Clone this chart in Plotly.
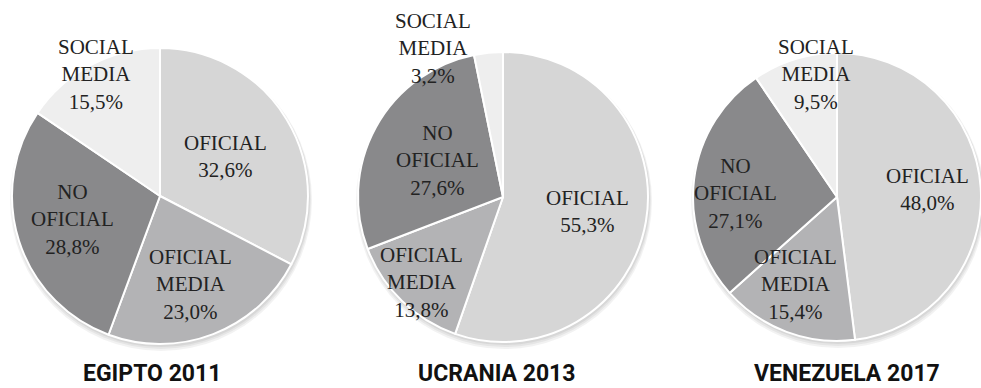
import plotly.graph_objects as go

W, H = 981, 388

# Data: share of each media type in three protest episodes
countries = ["EGIPTO 2011", "UCRANIA 2013", "VENEZUELA 2017"]
categories = ["OFICIAL", "OFICIAL<br>MEDIA", "NO<br>OFICIAL", "SOCIAL<br>MEDIA"]
egipto = [32.6, 23.0, 28.8, 15.5]
ucrania = [55.3, 13.8, 27.6, 3.2]
venezuela = [48.0, 15.4, 27.1, 9.5]
series = [egipto, ucrania, venezuela]

# Styling / layout
colors = ["#d6d6d6", "#b3b3b5", "#89898b", "#eeeeee"]
label_font = "'Liberation Serif', 'DejaVu Serif', serif"
title_font = "'Liberation Sans Narrow', Roboto"
# pie centre (px) and radius (px)
pie_geom = [(160, 196, 148), (503, 197, 145), (837, 197, 144)]
# label centres (px), one per category, per pie
label_pos = [
    [(225, 156), (190, 284), (72, 219), (96, 74)],
    [(587, 212), (421, 282), (437, 160), (433, 48)],
    [(927, 189), (795, 284), (735, 193), (816, 74)],
]
title_pos = [(152, 373), (497, 373), (847, 373)]


def fmt(v):
    return f"{v:.1f}".replace(".", ",") + "%"


fig = go.Figure()
shapes = []
annotations = []

for i, (name, vals) in enumerate(zip(countries, series)):
    cx, cy, r = pie_geom[i]
    x0, x1 = (cx - r) / W, min((cx + r) / W, 1.0)
    y0, y1 = 1 - (cy + r) / H, 1 - (cy - r) / H
    fig.add_trace(go.Pie(
        labels=categories,
        values=vals,
        sort=False,
        direction="clockwise",
        rotation=0,
        textinfo="none",
        hoverinfo="label+percent",
        marker=dict(colors=colors, line=dict(color="white", width=2)),
        domain=dict(x=[x0, x1], y=[y0, y1]),
        showlegend=False,
    ))
    # soft drop shadow under each pie
    for k, a in enumerate([0.05, 0.05, 0.06]):
        off = 4 - k
        grow = 3 - k
        shapes.append(dict(
            type="circle", xref="paper", yref="paper", layer="below",
            x0=(cx - r - grow + 1) / W, x1=(cx + r + grow + 1) / W,
            y0=1 - (cy + r + grow + off) / H, y1=1 - (cy - r - grow + off) / H,
            fillcolor=f"rgba(0,0,0,{a})", line=dict(width=0),
        ))
    for j, cat in enumerate(categories):
        lx, ly = label_pos[i][j]
        annotations.append(dict(
            x=lx / W, y=1 - ly / H, xref="paper", yref="paper",
            xanchor="center", yanchor="middle", showarrow=False,
            text=f"{cat}<br>{fmt(vals[j])}",
            font=dict(family=label_font, size=21, color="#222222"),
        ))
    tx, ty = title_pos[i]
    annotations.append(dict(
        x=tx / W, y=1 - ty / H, xref="paper", yref="paper",
        xanchor="center", yanchor="middle", showarrow=False,
        text=f"<b>{name}</b>",
        font=dict(family=title_font, size=23, color="#111111"),
    ))

fig.update_layout(
    width=W, height=H,
    margin=dict(l=0, r=0, t=0, b=0),
    paper_bgcolor="white",
    plot_bgcolor="white",
    shapes=shapes,
    annotations=annotations,
)

fig.write_html("out.html")
